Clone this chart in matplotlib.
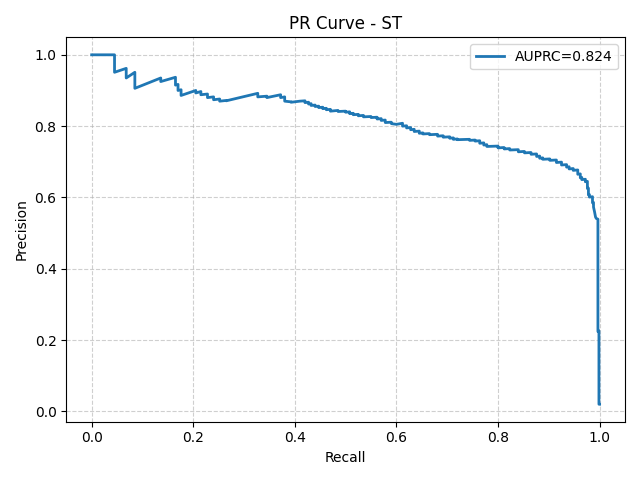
import matplotlib
matplotlib.use("Agg")
import matplotlib.pyplot as plt

recall = [0.0, 0.045, 0.045, 0.068, 0.068, 0.085, 0.085, 0.136, 0.136, 0.165, 0.165,
          0.170, 0.170, 0.176, 0.176, 0.205, 0.205, 0.215, 0.215, 0.228, 0.228,
          0.240, 0.240, 0.252, 0.252, 0.265, 0.265, 0.327, 0.327, 0.345, 0.345,
          0.372, 0.372, 0.380, 0.380, 0.393, 0.393, 0.410, 0.420, 0.420, 0.427,
          0.427, 0.432, 0.432, 0.440, 0.440, 0.447, 0.447, 0.455, 0.455, 0.462,
          0.462, 0.470, 0.470, 0.485, 0.485, 0.500, 0.500, 0.508, 0.508, 0.515,
          0.515, 0.525, 0.525, 0.535, 0.535, 0.550, 0.550, 0.562, 0.562, 0.570,
          0.570, 0.578, 0.578, 0.590, 0.590, 0.600, 0.612, 0.612, 0.620, 0.620,
          0.628, 0.628, 0.635, 0.635, 0.645, 0.645, 0.652, 0.652, 0.665, 0.665,
          0.681, 0.681, 0.692, 0.692, 0.705, 0.705, 0.712, 0.712, 0.720, 0.720,
          0.744, 0.744, 0.755, 0.755, 0.764, 0.764, 0.772, 0.772, 0.778, 0.778,
          0.800, 0.800, 0.812, 0.812, 0.823, 0.823, 0.840, 0.840, 0.852, 0.852,
          0.865, 0.865, 0.876, 0.876, 0.882, 0.882, 0.888, 0.888, 0.902, 0.902,
          0.915, 0.915, 0.925, 0.925, 0.935, 0.935, 0.940, 0.940, 0.948, 0.948,
          0.957, 0.957, 0.962, 0.962, 0.965, 0.965, 0.972, 0.972, 0.976, 0.976,
          0.978, 0.978, 0.980, 0.980, 0.986, 0.986, 0.988, 0.988, 0.990, 0.992,
          0.9935, 0.9967, 0.9967, 0.9987, 0.9987, 1.0]
precision = [1.0, 1.0, 0.951, 0.962, 0.935, 0.951, 0.906, 0.935, 0.925, 0.937, 0.915,
             0.917, 0.900, 0.902, 0.886, 0.900, 0.893, 0.897, 0.888, 0.890, 0.880,
             0.882, 0.874, 0.876, 0.870, 0.872, 0.871, 0.892, 0.882, 0.884, 0.880,
             0.888, 0.880, 0.882, 0.870, 0.868, 0.867, 0.870, 0.871, 0.866, 0.867,
             0.862, 0.863, 0.858, 0.859, 0.855, 0.856, 0.852, 0.853, 0.849, 0.850,
             0.846, 0.847, 0.842, 0.844, 0.841, 0.842, 0.839, 0.840, 0.835, 0.836,
             0.832, 0.833, 0.829, 0.830, 0.826, 0.827, 0.824, 0.825, 0.820, 0.821,
             0.816, 0.817, 0.810, 0.811, 0.807, 0.805, 0.808, 0.800, 0.801, 0.795,
             0.796, 0.790, 0.791, 0.785, 0.786, 0.780, 0.781, 0.778, 0.779, 0.776,
             0.777, 0.772, 0.773, 0.769, 0.770, 0.766, 0.767, 0.763, 0.764, 0.762,
             0.763, 0.760, 0.761, 0.758, 0.759, 0.752, 0.753, 0.747, 0.748, 0.743,
             0.744, 0.739, 0.740, 0.736, 0.737, 0.733, 0.734, 0.728, 0.729, 0.725,
             0.726, 0.721, 0.722, 0.715, 0.716, 0.710, 0.711, 0.707, 0.708, 0.704,
             0.705, 0.698, 0.699, 0.691, 0.692, 0.685, 0.686, 0.680, 0.681, 0.676,
             0.677, 0.665, 0.666, 0.655, 0.656, 0.650, 0.651, 0.644, 0.645, 0.625,
             0.626, 0.607, 0.608, 0.601, 0.602, 0.585, 0.586, 0.573, 0.560, 0.545,
             0.541, 0.539, 0.224, 0.226, 0.020, 0.020]
auprc = 0.824

fig = plt.figure(figsize=(6.4, 4.8), dpi=100)
plt.plot(recall, precision, lw=2, color="#1f77b4", label=f"AUPRC={auprc:.3f}")
plt.xlabel("Recall")
plt.ylabel("Precision")
plt.title("PR Curve - ST")
plt.legend(loc="upper right")
plt.grid(True, linestyle="--", alpha=0.6)
plt.tight_layout()
plt.savefig("out.png", dpi=100)
